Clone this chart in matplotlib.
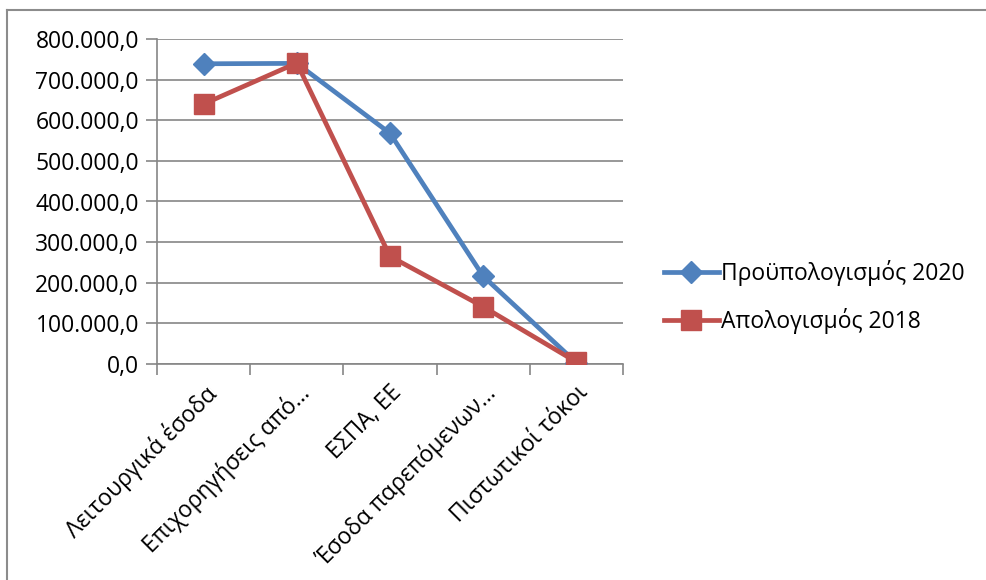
import matplotlib.pyplot as plt
from matplotlib.lines import Line2D
from matplotlib.ticker import FuncFormatter, MultipleLocator

plt.rcParams['font.family'] = ['Open Sans', 'DejaVu Sans']

categories = ["Λειτουργικά έσοδα", "Επιχορηγήσεις από…", "ΕΣΠΑ, ΕΕ",
              "Έσοδα παρεπόμενων…", "Πιστωτικοί τόκοι"]
budget_2020 = [739000, 740000, 568000, 216000, 3000]
accounts_2018 = [640000, 741000, 265000, 141000, 5000]
series_names = ["Προϋπολογισμός 2020", "Απολογισμός 2018"]

blue = "#4F81BD"
red = "#C0504D"
grid_col = "#868686"
fs = 16.5

fig = plt.figure(figsize=(9.87, 5.80), dpi=100)
ax = fig.add_axes([157 / 987, 1 - 364 / 580, (623 - 157) / 987, (364 - 39) / 580])

x = list(range(len(categories)))
ax.plot(x, budget_2020, color=blue, lw=3.4, marker="D", ms=11,
        markerfacecolor=blue, markeredgecolor=blue, zorder=3)
ax.plot(x, accounts_2018, color=red, lw=3.4, marker="s", ms=14,
        markerfacecolor=red, markeredgecolor=red, zorder=4)

ax.set_xlim(-0.5, 4.5)
ax.set_ylim(0, 800000)
ax.yaxis.set_major_locator(MultipleLocator(100000))


def fmt(v, pos):
    s = f"{v:,.1f}"
    return s.replace(",", "X").replace(".", ",").replace("X", ".")


ax.yaxis.set_major_formatter(FuncFormatter(fmt))
ax.grid(axis="y", color=grid_col, lw=1.2)
ax.set_axisbelow(True)

# category labels centred, tick marks on boundaries
ax.set_xticks([i - 0.5 for i in range(len(categories) + 1)])
ax.set_xticklabels([])
ax.set_xticks(x, minor=True)
ax.set_xticklabels(categories, minor=True, rotation=45, ha="right",
                   rotation_mode="anchor", fontsize=fs)
ax.tick_params(axis="x", which="minor", length=0, pad=12)
ax.tick_params(axis="x", which="major", length=8, width=1.2, color=grid_col)
ax.tick_params(axis="y", length=8, width=1.2, color=grid_col, labelsize=fs, pad=5)

for side in ["top", "right"]:
    ax.spines[side].set_visible(False)
for side in ["left", "bottom"]:
    ax.spines[side].set_color(grid_col)
    ax.spines[side].set_linewidth(1.2)

handles = [
    Line2D([], [], color=blue, lw=3.4, marker="D", ms=11),
    Line2D([], [], color=red, lw=3.4, marker="s", ms=14),
]
fig.legend(handles, series_names, loc="center left", bbox_to_anchor=(643 / 987, 1 - 297 / 580),
           frameon=False, fontsize=fs, handlelength=2.4, handletextpad=0.1,
           labelspacing=1.0)

# chart area border (left and top)
fig.add_artist(Line2D([7 / 987, 7 / 987], [0, 1 - 10 / 580], color="#8c8c8c", lw=1.5))
fig.add_artist(Line2D([7 / 987, 1], [1 - 10 / 580, 1 - 10 / 580], color="#8c8c8c", lw=1.5))

fig.savefig("out.png", dpi=100)
